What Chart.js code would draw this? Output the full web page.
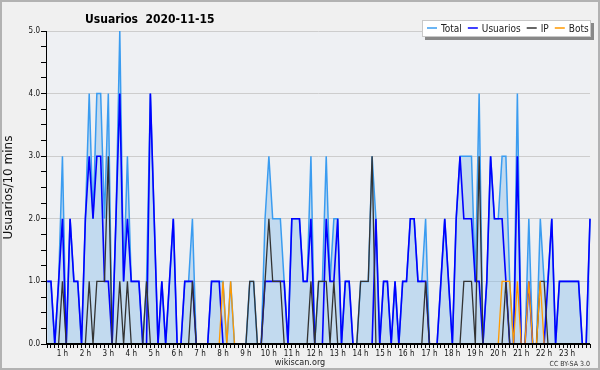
<!DOCTYPE html>
<html>
<head>
<meta charset="utf-8">
<script src="https://cdn.jsdelivr.net/npm/chart.js@4.4.1/dist/chart.umd.min.js"></script>
<style>
html,body{margin:0;padding:0;background:#f0f0f0;}
canvas{display:block;}
</style>
</head>
<body>
<canvas id="c" width="600" height="370"></canvas>
<script>
// ---- data (10-minute slots, first slot 00:20, last 24:00) ----
const slotStartMin = 20, slotStepMin = 10, slotCount = 143;
const slotMinutes = Array.from({length: slotCount}, (_, i) => slotStartMin + slotStepMin * i);

const usuarios = [
  1,1,0,1,2,0,2,1,1,0,
  2,3,2,3,3,1,1,0,2,4,
  1,2,1,1,1,0,0,4,2,0,
  1,0,1,2,0,0,1,1,1,0,
  0,0,0,1,1,1,0,0,0,0,
  0,0,0,0,0,0,0,1,1,1,
  1,1,1,0,2,2,2,1,1,2,
  0,0,0,2,1,1,2,0,1,1,
  0,0,0,0,0,0,2,0,1,1,
  0,1,0,1,1,2,2,1,1,1,
  0,0,0,1,2,1,0,2,3,2,
  2,2,1,1,0,1,3,2,2,2,
  1,0,0,3,0,0,1,0,0,0,
  0,1,2,0,1,1,1,1,1,1,
  0,0,2
];
const ip = [
  0,0,0,0,1,0,0,0,0,0,
  0,1,0,1,1,1,3,0,0,1,
  0,1,0,0,0,0,1,0,0,0,
  0,0,0,0,0,0,0,0,1,0,
  0,0,0,0,0,0,0,0,0,0,
  0,0,0,1,1,0,0,1,2,1,
  1,1,0,0,0,0,0,0,0,1,
  0,1,1,1,0,1,0,0,0,0,
  0,0,1,1,1,3,0,0,0,0,
  0,0,0,0,0,0,0,0,0,1,
  0,0,0,0,0,0,0,0,0,1,
  1,1,0,3,0,0,0,0,0,0,
  1,0,0,0,0,0,0,0,0,1,
  1,0,0,0,0,0,0,0,0,0,
  0,0,0
];
const bots = [
  0,0,0,0,0,0,0,0,0,0,
  0,0,0,0,0,0,0,0,0,0,
  0,0,0,0,0,0,0,0,0,0,
  0,0,0,0,0,0,0,0,0,0,
  0,0,0,0,0,0,1,0,1,0,
  0,0,0,0,0,0,0,0,0,0,
  0,0,0,0,0,0,0,0,0,0,
  0,0,0,0,0,0,0,0,0,0,
  0,0,0,0,0,0,0,0,0,0,
  0,0,0,0,0,0,0,0,0,0,
  0,0,0,0,0,0,0,0,0,0,
  0,0,0,0,0,0,0,0,0,1,
  1,1,0,1,0,0,1,0,0,1,
  0,0,0,0,0,0,0,0,0,0,
  0,0,0
];
const total = [
  1,1,0,1,3,0,2,1,1,0,
  2,4,2,4,4,2,4,0,2,5,
  1,3,1,1,1,0,1,4,2,0,
  1,0,1,2,0,0,1,1,2,0,
  0,0,0,1,1,1,1,0,1,0,
  0,0,0,1,1,0,0,2,3,2,
  2,2,1,0,2,2,2,1,1,3,
  0,1,1,3,1,2,2,0,1,1,
  0,0,1,1,1,3,2,0,1,1,
  0,1,0,1,1,2,2,1,1,2,
  0,0,0,1,2,1,0,2,3,3,
  3,3,1,4,0,1,3,2,2,3,
  3,1,0,4,0,0,2,0,0,2,
  1,1,2,0,1,1,1,1,1,1,
  0,0,2
];

const hourLabels = ['1 h','2 h','3 h','4 h','5 h','6 h','7 h','8 h','9 h','10 h','11 h','12 h',
  '13 h','14 h','15 h','16 h','17 h','18 h','19 h','20 h','21 h','22 h','23 h'];
const hourMinutes = hourLabels.map((_, k) => (k + 1) * 60);
const yTickValues = [0,0.25,0.5,0.75,1,1.25,1.5,1.75,2,2.25,2.5,2.75,3,3.25,3.5,3.75,4,4.25,4.5,4.75,5];

const titleText = 'Usuarios  2020-11-15';
const yTitle = 'Usuarios/10 mins';
const xTitle = 'wikiscan.org';
const creditText = 'CC BY-SA 3.0';
const seriesNames = ['Total','Usuarios','IP','Bots'];
const seriesColors = ['#3a9cf0','#0000ff','#333333','#ff9900'];

const FONT = '"DejaVu Sans Condensed", "DejaVu Sans", sans-serif';
const toPts = arr => arr.map((v, i) => ({x: slotMinutes[i], y: v}));

const decor = {
  id: 'decor',
  beforeDraw(chart) {
    const {ctx, chartArea: a} = chart;
    ctx.save();
    ctx.fillStyle = '#f0f0f0';
    ctx.fillRect(0, 0, chart.width, chart.height);
    ctx.fillStyle = '#eef0f3';
    ctx.fillRect(a.left, a.top, a.right - a.left, a.bottom - a.top);
    ctx.strokeStyle = '#b2b2b2';
    ctx.lineWidth = 2;
    ctx.strokeRect(1, 1, chart.width - 2, chart.height - 2);
    ctx.restore();
  },
  afterDatasetsDraw(chart) {
    // axis lines sit on top of the series, as in the original
    const {ctx, chartArea: a} = chart;
    ctx.save();
    ctx.strokeStyle = '#000';
    ctx.lineWidth = 2;
    ctx.beginPath();
    ctx.moveTo(a.left, a.bottom);
    ctx.lineTo(a.right, a.bottom);
    ctx.stroke();
    ctx.lineWidth = 1;
    ctx.beginPath();
    ctx.moveTo(a.left + 0.5, a.top);
    ctx.lineTo(a.left + 0.5, a.bottom);
    ctx.stroke();
    ctx.restore();
  },
  afterDraw(chart) {
    const ctx = chart.ctx;
    ctx.save();
    // title
    ctx.fillStyle = '#000';
    ctx.font = 'bold 12px ' + FONT;
    ctx.textAlign = 'left';
    ctx.textBaseline = 'alphabetic';
    ctx.fillText(titleText, 85, 23);
    // x title
    ctx.font = '9px ' + FONT;
    ctx.textAlign = 'center';
    ctx.fillStyle = '#222';
    ctx.fillText(xTitle, 300, 365);
    // credit
    ctx.font = '7px ' + FONT;
    ctx.textAlign = 'right';
    ctx.fillStyle = '#333';
    ctx.fillText(creditText, 590, 366);
    // legend box
    const bx = 422, by = 20, bw = 169, bh = 17;
    ctx.fillStyle = '#888888';
    ctx.fillRect(bx + 3, by + 3, bw, bh);
    ctx.fillStyle = '#ffffff';
    ctx.fillRect(bx, by, bw, bh);
    ctx.strokeStyle = '#c8c8c8';
    ctx.lineWidth = 1;
    ctx.strokeRect(bx + 0.5, by + 0.5, bw - 1, bh - 1);
    ctx.font = '10px ' + FONT;
    ctx.textAlign = 'left';
    let x = 427;
    seriesNames.forEach((name, k) => {
      ctx.strokeStyle = seriesColors[k];
      ctx.lineWidth = 1.5;
      ctx.beginPath();
      ctx.moveTo(x, 28);
      ctx.lineTo(x + 10, 28);
      ctx.stroke();
      ctx.fillStyle = '#222';
      ctx.fillText(name, x + 14, 32);
      x += 14 + ctx.measureText(name).width + 6;
    });
    ctx.restore();
  }
};

new Chart(document.getElementById('c'), {
  type: 'line',
  data: {
    datasets: [
      {label: seriesNames[0], data: toPts(total), borderColor: seriesColors[0], borderWidth: 1.5,
       backgroundColor: 'rgba(140,190,235,0.45)', fill: 'origin', pointRadius: 0, tension: 0, order: 4, clip: false},
      {label: seriesNames[1], data: toPts(usuarios), borderColor: seriesColors[1], borderWidth: 1.6,
       fill: false, pointRadius: 0, tension: 0, order: 3, clip: false},
      {label: seriesNames[2], data: toPts(ip), borderColor: seriesColors[2], borderWidth: 1.3,
       fill: false, pointRadius: 0, tension: 0, order: 2, clip: false},
      {label: seriesNames[3], data: toPts(bots), borderColor: seriesColors[3], borderWidth: 1.3,
       fill: false, pointRadius: 0, tension: 0, order: 1, clip: false}
    ]
  },
  options: {
    responsive: false,
    animation: false,
    devicePixelRatio: 1,
    layout: {padding: {top: 31, right: 10, left: 0, bottom: 0}},
    plugins: {legend: {display: false}, tooltip: {enabled: false}, title: {display: false}},
    scales: {
      x: {
        type: 'linear',
        min: 17, max: 1440,
        afterBuildTicks: axis => { axis.ticks = slotMinutes.map(v => ({value: v})); },
        afterFit: s => { s.height = 26; },
        ticks: {
          autoSkip: false, maxRotation: 0, minRotation: 0, padding: 1,
          color: '#111', font: {family: FONT, size: 8},
          callback: v => { const k = hourMinutes.indexOf(v); return k >= 0 ? hourLabels[k] : ''; }
        },
        grid: {drawOnChartArea: false, drawTicks: true, tickLength: 4, tickColor: '#000', color: '#000'},
        border: {display: true, color: '#000', width: 1}
      },
      y: {
        min: 0, max: 5,
        afterBuildTicks: axis => { axis.ticks = yTickValues.map(v => ({value: v})); },
        afterFit: s => { s.width = 46; },
        ticks: {
          padding: 1, color: '#111', font: {family: FONT, size: 8},
          callback: v => Number.isInteger(v) ? v.toFixed(1) : ''
        },
        grid: {
          drawTicks: true, tickLength: 5, tickColor: '#000',
          color: c => (c.tick && Number.isInteger(c.tick.value) && c.tick.value > 0) ? '#cdcdcd' : 'rgba(0,0,0,0)'
        },
        border: {display: true, color: '#000', width: 1},
        title: {display: true, text: yTitle, color: '#111', font: {family: '"DejaVu Sans", sans-serif', size: 12}, padding: {top: 2, bottom: 0}}
      }
    }
  },
  plugins: [decor]
});
</script>
</body>
</html>
